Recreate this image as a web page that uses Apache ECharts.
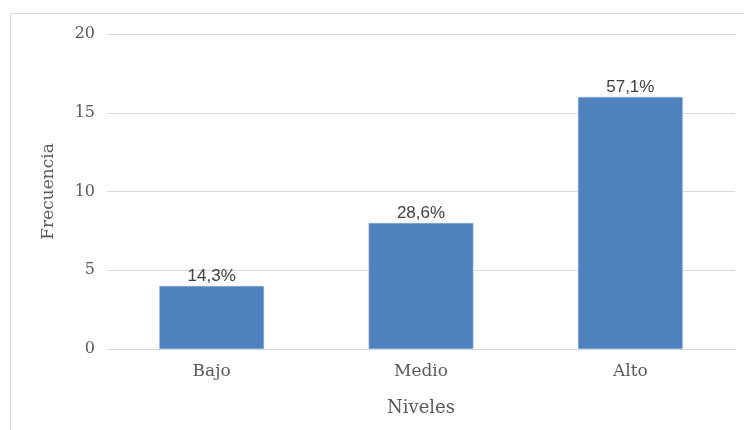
<!DOCTYPE html>
<html>
<head>
<meta charset="utf-8">
<script src="https://cdn.jsdelivr.net/npm/echarts@6/dist/echarts.min.js"></script>
<style>
  html, body { margin: 0; padding: 0; background: #ffffff; }
  #chart { width: 744px; height: 430px; }
</style>
</head>
<body>
<div id="chart"></div>
<script>
// Frecuencia por nivel
const categories = ['Bajo', 'Medio', 'Alto'];
const frecuencias = [4, 8, 16];
const porcentajes = ['14,3%', '28,6%', '57,1%'];
const yTicks = { min: 0, max: 20, interval: 5 };

const serif = '"DejaVu Serif", serif';
const sans = '"Liberation Sans", Arial, sans-serif';

const chart = echarts.init(document.getElementById('chart'), null, { renderer: 'canvas' });

chart.setOption({
  animation: false,
  backgroundColor: '#ffffff',
  graphic: [{
    type: 'rect',
    shape: { x: 10.5, y: 13.5, width: 760, height: 450 },
    style: { fill: 'none', stroke: '#d9d9d9', lineWidth: 1 },
    silent: true
  }],
  grid: { left: 107, right: 9, top: 34, bottom: 81, containLabel: false },
  xAxis: {
    type: 'category',
    data: categories,
    name: 'Niveles',
    nameLocation: 'middle',
    nameGap: 50,
    nameTextStyle: { fontFamily: serif, fontSize: 18, color: '#595959' },
    axisLine: { show: true, lineStyle: { color: '#d9d9d9', width: 1 } },
    axisTick: { show: false },
    axisLabel: { fontFamily: serif, fontSize: 17, color: '#595959', margin: 14 }
  },
  yAxis: {
    type: 'value',
    min: yTicks.min,
    max: yTicks.max,
    interval: yTicks.interval,
    name: 'Frecuencia',
    nameLocation: 'middle',
    nameGap: 50,
    nameRotate: 90,
    nameTextStyle: { fontFamily: serif, fontSize: 17, color: '#595959' },
    axisLine: { show: false },
    axisTick: { show: false },
    axisLabel: { fontFamily: serif, fontSize: 16, color: '#595959', margin: 12 },
    splitLine: { lineStyle: { color: '#d9d9d9', width: 1 } }
  },
  series: [{
    type: 'bar',
    data: frecuencias,
    barWidth: '50%',
    itemStyle: { color: '#4f81bd', borderColor: '#8db0db', borderWidth: 0.5 },
    label: {
      show: true,
      position: 'top',
      distance: 1,
      formatter: (p) => porcentajes[p.dataIndex],
      fontFamily: sans,
      fontSize: 17,
      color: '#404040'
    }
  }]
});
</script>
</body>
</html>
